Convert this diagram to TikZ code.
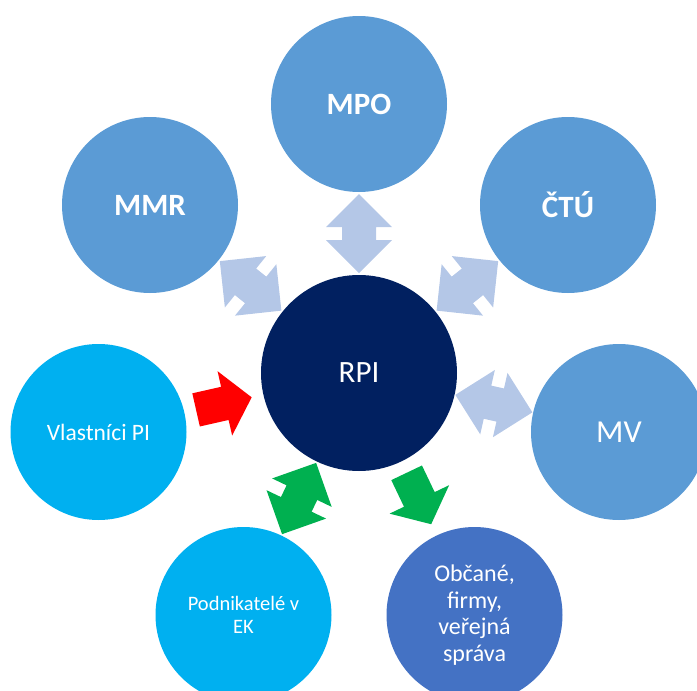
\documentclass[tikz,border=0pt]{standalone}
\usepackage{fontspec}
\setmainfont{Carlito}
\usetikzlibrary{calc}
\definecolor{midblue}{HTML}{5B9BD5}
\definecolor{navy}{HTML}{012060}
\definecolor{cyanb}{HTML}{00B0F0}
\definecolor{royal}{HTML}{4472C4}
\definecolor{paleb}{HTML}{B4C7E7}
\definecolor{gr}{HTML}{00B050}
\definecolor{rd}{HTML}{FF0000}
\tikzset{
  circ/.style={circle, draw=none, minimum size=176pt, inner sep=0pt, text=white, align=center},
  hub/.style={circle, draw=none, minimum size=196pt, inner sep=0pt, text=white, fill=navy},
  boldlbl/.style={font=\fontsize{31}{37}\selectfont\bfseries},
}
% #1 node a, #2 radius a, #3 node b, #4 radius b, #5 colour, #6 shape (dbl or sgl)
\newcommand{\gapcoords}[4]{%
  \path ($(#1.center)!#2!(#3.center)$) coordinate (tmpA)
        ($(#3.center)!#4!(#1.center)$) coordinate (tmpB);
  \path ($(tmpA)!0.5!(tmpB)$) coordinate (tmpM);
  \pgfmathanglebetweenpoints{\pgfpointanchor{tmpA}{center}}{\pgfpointanchor{tmpB}{center}}%
  \global\let\myang\pgfmathresult
}
\newcommand{\dblarrow}[5]{%
  \gapcoords{#1}{#2}{#3}{#4}%
  \fill[#5, shift={(tmpM)}, rotate=\myang]
    (39.5,0) -- (6.5,33) -- (6.5,17) -- (-6.5,17) -- (-6.5,33) -- (-39.5,0)
    -- (-6.5,-33) -- (-6.5,-17) -- (6.5,-17) -- (6.5,-33) -- cycle;
}
\newcommand{\sglarrow}[5]{%
  \gapcoords{#1}{#2}{#3}{#4}%
  \fill[#5, shift={(tmpM)}, rotate=\myang]
    (28.5,0) -- (1,33) -- (1,17) -- (-28.5,17) -- (-28.5,-17) -- (1,-17) -- (1,-33) -- cycle;
}
\begin{document}
\begin{tikzpicture}[x=1pt,y=-1pt]
\useasboundingbox (0,0) rectangle (697,691);
\clip (0,0) rectangle (697,691);

\node[circ, fill=midblue, boldlbl] (mpo) at (359,104) {MPO};
\node[circ, fill=midblue, boldlbl] (mmr) at (150,205) {MMR};
\node[circ, fill=midblue, boldlbl] (ctu) at (568,205) {ČTÚ};
\node[hub, font=\fontsize{31}{37}\selectfont] (rpi) at (359,373) {RPI};
\node[circ, fill=cyanb, font=\fontsize{23.5}{28}\selectfont] (vl) at (98.5,432) {Vlastníci PI};
\node[circ, fill=midblue, font=\fontsize{32}{38}\selectfont] (mv) at (619,432) {MV};
\node[circ, fill=cyanb, font=\fontsize{20.5}{23.5}\selectfont] (pod) at (243.5,615) {Podnikatelé v\\EK};
\node[circ, fill=royal, font=\fontsize{24}{26.7}\selectfont] (obc) at (474.5,615) {Občané,\\firmy,\\veřejná\\správa};

\dblarrow{mpo}{88pt}{rpi}{98pt}{paleb}
\dblarrow{mmr}{88pt}{rpi}{98pt}{paleb}
\dblarrow{ctu}{88pt}{rpi}{98pt}{paleb}
\dblarrow{mv}{88pt}{rpi}{98pt}{paleb}
\dblarrow{pod}{88pt}{rpi}{98pt}{gr}
\sglarrow{vl}{88pt}{rpi}{98pt}{rd}
\sglarrow{rpi}{98pt}{obc}{88pt}{gr}
\end{tikzpicture}
\end{document}
